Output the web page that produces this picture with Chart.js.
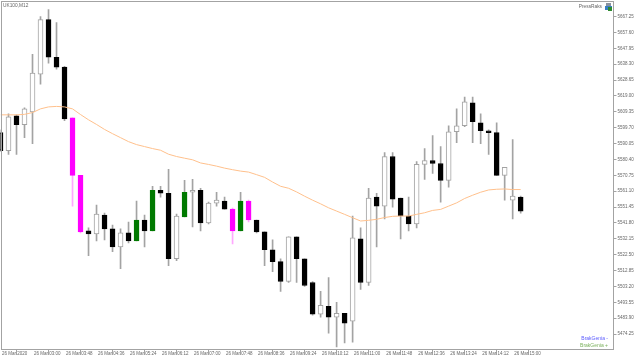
<!DOCTYPE html>
<html>
<head>
<meta charset="utf-8">
<style>
html, body { margin: 0; padding: 0; background: #fff; }
canvas { display: block; }
</style>
<script src="https://cdn.jsdelivr.net/npm/chart.js@4"></script>
</head>
<body>
<canvas id="ctx" width="640" height="360"></canvas>
<script>
// UK100 M12 candles
var opens = [5596.68,5585.82,5606.93,5601.51,5609.35,5632.26,5665.44,5642.52,5636.49,5605.73,5570.75,5536.97,5535.16,5546.62,5538.18,5527.32,5535.77,5530.94,5543.61,5536.97,5561.70,5559.89,5520.08,5545.41,5560.49,5561.70,5541.80,5553.86,5555.06,5550.24,5536.97,5555.06,5543.61,5536.37,5525.51,5518.27,5506.21,5533.35,5520.08,5505.61,5486.31,5491.13,5484.50,5486.91,5482.09,5532.15,5505.61,5557.48,5552.05,5582.21,5556.87,5546.02,5541.19,5577.38,5579.79,5577.98,5567.73,5597.28,5600.90,5614.77,5602.71,5597.89,5596.68,5570.75,5555.67,5557.48];
var highs = [5598.49,5608.14,5607.54,5611.76,5644.33,5667.25,5671.47,5663.63,5637.09,5605.73,5570.75,5538.78,5552.65,5547.83,5540.59,5538.18,5542.40,5555.06,5546.62,5564.11,5564.11,5574.36,5547.22,5567.73,5568.33,5562.91,5554.46,5560.49,5557.48,5550.84,5560.49,5555.67,5543.61,5536.37,5531.54,5520.08,5533.35,5533.35,5520.08,5506.21,5500.18,5508.63,5493.55,5486.91,5546.02,5538.78,5562.91,5559.89,5584.62,5584.62,5556.87,5557.48,5579.19,5587.03,5594.87,5588.24,5600.90,5611.16,5618.39,5618.39,5608.14,5598.49,5602.71,5575.57,5592.46,5558.08];
var lows = [5585.22,5583.41,5583.41,5593.66,5590.05,5626.23,5638.90,5635.28,5603.92,5552.05,5535.77,5521.89,5530.94,5531.54,5524.31,5514.05,5529.73,5530.94,5527.32,5536.97,5557.48,5515.86,5518.88,5545.41,5539.38,5536.97,5541.19,5552.05,5550.24,5529.13,5536.97,5542.40,5535.77,5515.86,5512.24,5500.18,5505.61,5505.61,5503.20,5485.70,5484.50,5474.85,5466.41,5468.82,5469.42,5501.39,5503.80,5527.32,5544.21,5551.45,5532.15,5536.97,5538.78,5568.33,5571.95,5554.46,5563.51,5590.65,5600.30,5590.65,5590.05,5583.41,5570.75,5555.67,5544.21,5547.83];
var closes = [5585.82,5606.33,5601.51,5611.16,5632.87,5665.44,5642.52,5636.49,5605.12,5570.75,5536.37,5535.16,5547.22,5538.18,5527.32,5535.77,5530.94,5543.61,5536.97,5561.70,5559.89,5520.08,5546.02,5560.49,5561.70,5541.80,5553.86,5555.67,5550.24,5536.97,5555.06,5543.61,5536.37,5525.51,5518.27,5506.21,5533.35,5520.08,5503.80,5486.31,5491.74,5484.50,5486.91,5480.88,5532.75,5505.61,5556.87,5552.05,5582.21,5556.27,5546.02,5541.19,5577.38,5579.79,5577.98,5567.73,5597.28,5600.90,5615.38,5603.31,5597.89,5596.68,5570.75,5575.57,5558.08,5549.03];
var maValues = [5607.54,5607.54,5607.54,5607.84,5608.92,5611.16,5612.36,5612.66,5612.36,5611.16,5607.72,5604.52,5601.69,5598.67,5596.08,5593.66,5591.25,5589.44,5588.24,5587.03,5586.01,5583.59,5582.21,5581.18,5580.21,5578.29,5577.38,5576.36,5575.15,5574.19,5573.34,5572.74,5571.17,5569.54,5566.70,5564.11,5562.91,5560.67,5558.08,5555.67,5553.44,5551.03,5549.03,5547.04,5544.99,5543.00,5543.42,5544.03,5545.12,5545.84,5546.02,5546.02,5547.04,5548.01,5549.45,5550.06,5552.05,5554.04,5556.69,5558.68,5560.49,5561.88,5562.30,5562.48,5562.12,5562.12];
var magentaBars = [9, 10, 29, 31];
var greenBars = [17, 19, 23, 30];
var priceTicks = [5667.25,5657.60,5647.95,5638.30,5628.65,5619.00,5609.35,5599.70,5590.05,5580.40,5570.75,5561.10,5551.45,5541.80,5532.15,5522.50,5512.85,5503.20,5493.55,5483.90,5474.25];
var timeLabels = ['26 Mar 2020','26 Mar 03:00','26 Mar 03:48','26 Mar 04:36','26 Mar 05:24','26 Mar 06:12','26 Mar 07:00','26 Mar 07:48','26 Mar 08:36','26 Mar 09:24','26 Mar 10:12','26 Mar 11:00','26 Mar 11:48','26 Mar 12:36','26 Mar 13:24','26 Mar 14:12','26 Mar 15:00'];

var grey = '#a3a3a3';
var textGrey = '#666666';
var fontName = '"Liberation Sans"';

var bodies = opens.map(function(o, i){ return {x: i, y: [o, closes[i]]}; });
var wicks = highs.map(function(h, i){ return {x: i, y: [lows[i], h]}; });
var ma = maValues.map(function(v, i){ return {x: i, y: v}; });

var bodyColors = opens.map(function(o, i){
  if (magentaBars.indexOf(i) >= 0) return '#ff00ff';
  if (greenBars.indexOf(i) >= 0) return '#007a00';
  return closes[i] > o ? '#ffffff' : '#000000';
});
var bodyBorders = opens.map(function(o, i){
  if (magentaBars.indexOf(i) >= 0) return '#ff00ff';
  if (greenBars.indexOf(i) >= 0) return '#007a00';
  return closes[i] > o ? grey : '#000000';
});
var wickColors = opens.map(function(o, i){
  return magentaBars.indexOf(i) >= 0 ? '#ffa8ff' : grey;
});

// frame and the corner texts
var corners = {
  id: 'corners',
  afterDraw: function(c){
    var g = c.ctx;
    g.save();
    g.strokeStyle = grey;
    g.lineWidth = 1;
    g.strokeRect(1.5, 1.5, 612, 348);
    g.font = '4.8px ' + fontName;
    g.textBaseline = 'middle';
    g.fillStyle = textGrey;
    g.textAlign = 'left';
    g.fillText('UK100,M12', 3, 5.5);
    g.textAlign = 'right';
    g.fillText('PressRaks', 602, 7);
    g.font = '5px ' + fontName;
    g.fillStyle = '#5a5aff';
    g.fillText('BrakGenia -', 608, 339);
    g.fillStyle = '#79b05a';
    g.fillText('BrakGenia +', 608, 346);
    // little terminal icon in the corner
    g.fillStyle = '#8a93a0';
    g.fillRect(606, 3, 5, 3);
    g.fillStyle = '#3a7fc4';
    g.fillRect(605, 6, 7, 4);
    g.fillStyle = '#2f8a2f';
    g.fillRect(608, 7, 4, 4);
    g.restore();
  }
};

new Chart(document.getElementById('ctx'), {
  type: 'bar',
  data: {
    datasets: [
      {type: 'line', data: ma, borderColor: '#ffc08c', borderWidth: 1, pointRadius: 0, tension: 0, order: 1},
      {data: bodies, backgroundColor: bodyColors, borderColor: bodyBorders, borderWidth: 1, borderSkipped: false, barThickness: 5, order: 2},
      {data: wicks, backgroundColor: wickColors, borderWidth: 0, barThickness: 1, order: 3}
    ]
  },
  options: {
    responsive: false,
    animation: false,
    layout: {padding: {left: 0.5, top: 1, right: 0, bottom: 0}},
    datasets: {bar: {grouped: false}},
    plugins: {legend: {display: false}, title: {display: false}, tooltip: {enabled: false}},
    scales: {
      x: {
        type: 'linear',
        offset: false,
        min: 0,
        max: 76.6,
        afterFit: function(s){ s.height = 11; },
        afterBuildTicks: function(s){
          s.ticks = timeLabels.map(function(t, i){ return {value: i * 4}; });
        },
        grid: {display: true, drawOnChartArea: false, drawTicks: true, tickLength: 6, tickColor: grey},
        border: {display: false},
        ticks: {
          align: 'start',
          autoSkip: false,
          maxRotation: 0,
          padding: -4,
          labelOffset: 1.5,
          color: textGrey,
          font: {family: fontName, size: 4.5},
          callback: function(v){ return timeLabels[v / 4]; }
        }
      },
      y: {
        position: 'right',
        min: 5465.2,
        max: 5675.09,
        afterFit: function(s){ s.width = 26.5; },
        afterBuildTicks: function(s){
          s.ticks = priceTicks.map(function(p){ return {value: p}; });
        },
        grid: {display: true, drawOnChartArea: false, drawTicks: true, tickLength: 3, tickColor: grey},
        border: {display: false},
        ticks: {
          autoSkip: false,
          padding: 1,
          color: textGrey,
          font: {family: fontName, size: 4.5},
          callback: function(v){ return v.toFixed(2); }
        }
      }
    }
  },
  plugins: [corners]
});
</script>
</body>
</html>
